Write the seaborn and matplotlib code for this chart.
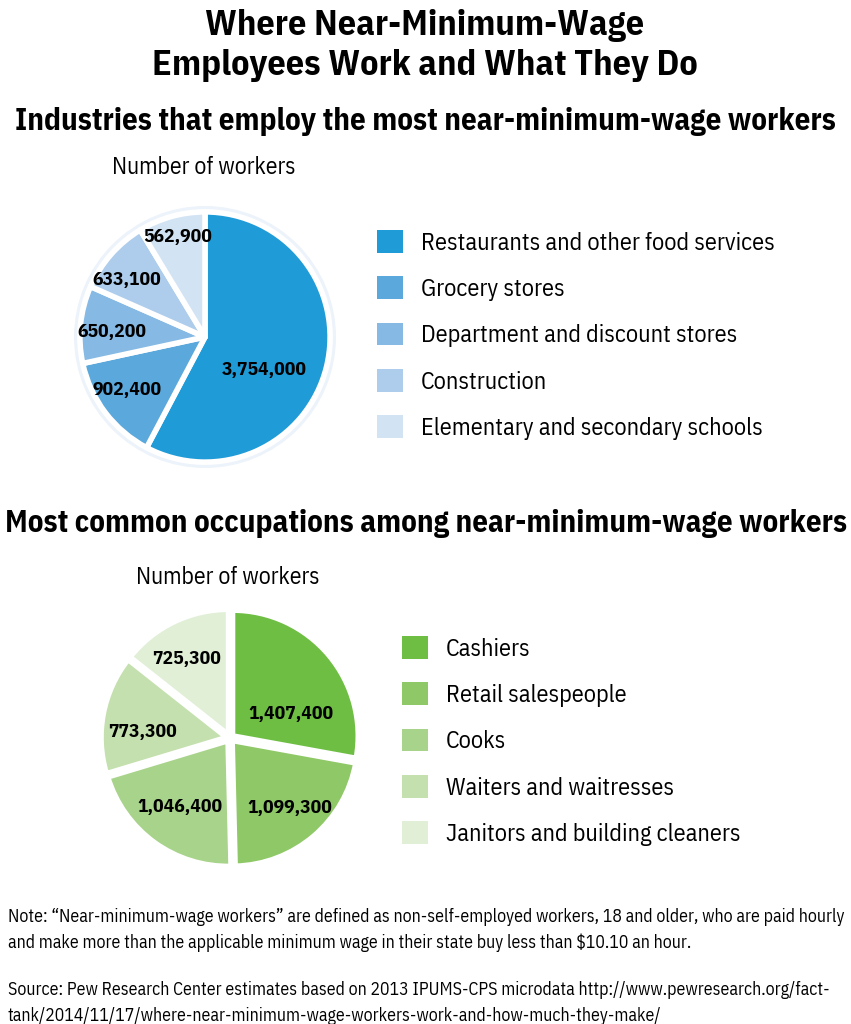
import seaborn as sns
import matplotlib.pyplot as plt
import numpy as np
from matplotlib.patches import Patch, Circle

# data
industries = ['Restaurants and other food services', 'Grocery stores',
              'Department and discount stores', 'Construction',
              'Elementary and secondary schools']
industry_workers = [3754000, 902400, 650200, 633100, 562900]

occupations = ['Cashiers', 'Retail salespeople', 'Cooks',
               'Waiters and waitresses', 'Janitors and building cleaners']
occupation_workers = [1407400, 1099300, 1046400, 773300, 725300]

title = 'Where Near-Minimum-Wage\nEmployees Work and What They Do'
sub_top = 'Industries that employ the most near-minimum-wage workers'
sub_bottom = 'Most common occupations among near-minimum-wage workers'
note = ('Note: \u201cNear-minimum-wage workers\u201d are defined as non-self-employed workers, 18 and older, who are paid hourly\n'
        'and make more than the applicable minimum wage in their state buy less than $10.10 an hour.')
source = ('Source: Pew Research Center estimates based on 2013 IPUMS-CPS microdata http://www.pewresearch.org/fact-\n'
          'tank/2014/11/17/where-near-minimum-wage-workers-work-and-how-much-they-make/')

sns.set_theme(style="white")
plt.rcParams['font.family'] = ['IBM Plex Sans Condensed', 'DejaVu Sans']
plt.rcParams['text.color'] = 'black'

blues = sns.color_palette(['#1f9bd7', '#5aa8dc', '#86b9e3', '#aecdec', '#d2e3f4'])
greens = sns.color_palette(['#6fbe44', '#8fc866', '#a8d38a', '#c4e0ae', '#e0efd6'])

W, H = 851, 1024
fig = plt.figure(figsize=(W / 100, H / 100), dpi=100)
fig.patch.set_facecolor('white')


def px_axes(cx, cy, r):
    return fig.add_axes([(cx - r) / W, 1 - (cy + r) / H, 2 * r / W, 2 * r / H])


def draw_pie(ax, values, colors, explode, ring, lab_r, lab_shift):
    if ring:
        ax.add_patch(Circle((0, 0), 1.0, facecolor='#edf3fa', edgecolor='none', zorder=0))
    wedges, _ = ax.pie(values, colors=colors, startangle=90, counterclock=False,
                       radius=0.955 if ring else 0.96, explode=explode,
                       wedgeprops=dict(edgecolor='white', linewidth=4, joinstyle='round'))
    for w, v, rr, sh in zip(wedges, values, lab_r, lab_shift):
        mid = np.deg2rad((w.theta1 + w.theta2) / 2 + sh)
        ax.text(rr * np.cos(mid), rr * np.sin(mid), f'{v:,}', ha='center', va='center',
                fontsize=14, fontweight='bold', color='black')
    ax.set_xlim(-1, 1)
    ax.set_ylim(-1, 1)
    ax.set_aspect('equal')
    ax.axis('off')
    return wedges


# top pie
ax1 = px_axes(205, 337, 131)
draw_pie(ax1, industry_workers, blues, None, True,
         [0.52, 0.72, 0.71, 0.74, 0.79], [-15, -3, 3, 5, 0])

# bottom pie
ax2 = px_axes(230, 738, 131)
draw_pie(ax2, occupation_workers, greens, [0.025] * 5, False,
         [0.50, 0.70, 0.65, 0.67, 0.69], [-18, 0, 0, 7, 3])

# legends
for labels, colors, x, y in [(industries, blues, 377, 230), (occupations, greens, 402, 636)]:
    handles = [Patch(facecolor=c, edgecolor='none') for c in colors]
    fig.legend(handles, labels, loc='upper left', bbox_to_anchor=(x / W, 1 - y / H),
               frameon=False, fontsize=17.4, borderpad=0, borderaxespad=0,
               handlelength=1.07, handleheight=1.07, handletextpad=0.75,
               labelspacing=0.9)

# titles and text
fig.text(425 / W, 1 - 9 / H, title, ha='center', va='top', fontsize=26,
         fontweight='bold', linespacing=1.25)
fig.text(425 / W, 1 - 121 / H, sub_top, ha='center', va='center', fontsize=22.2, fontweight='bold')
fig.text(204 / W, 1 - 167 / H, 'Number of workers', ha='center', va='center', fontsize=17)
fig.text(426 / W, 1 - 523 / H, sub_bottom, ha='center', va='center', fontsize=22.2, fontweight='bold')
fig.text(228 / W, 1 - 577 / H, 'Number of workers', ha='center', va='center', fontsize=17)
fig.text(8 / W, 1 - 908 / H, note, ha='left', va='top', fontsize=12.8, linespacing=1.55)
fig.text(8 / W, 1 - 981 / H, source, ha='left', va='top', fontsize=12.8, linespacing=1.55)

fig.savefig('out.png', dpi=100, facecolor='white')
